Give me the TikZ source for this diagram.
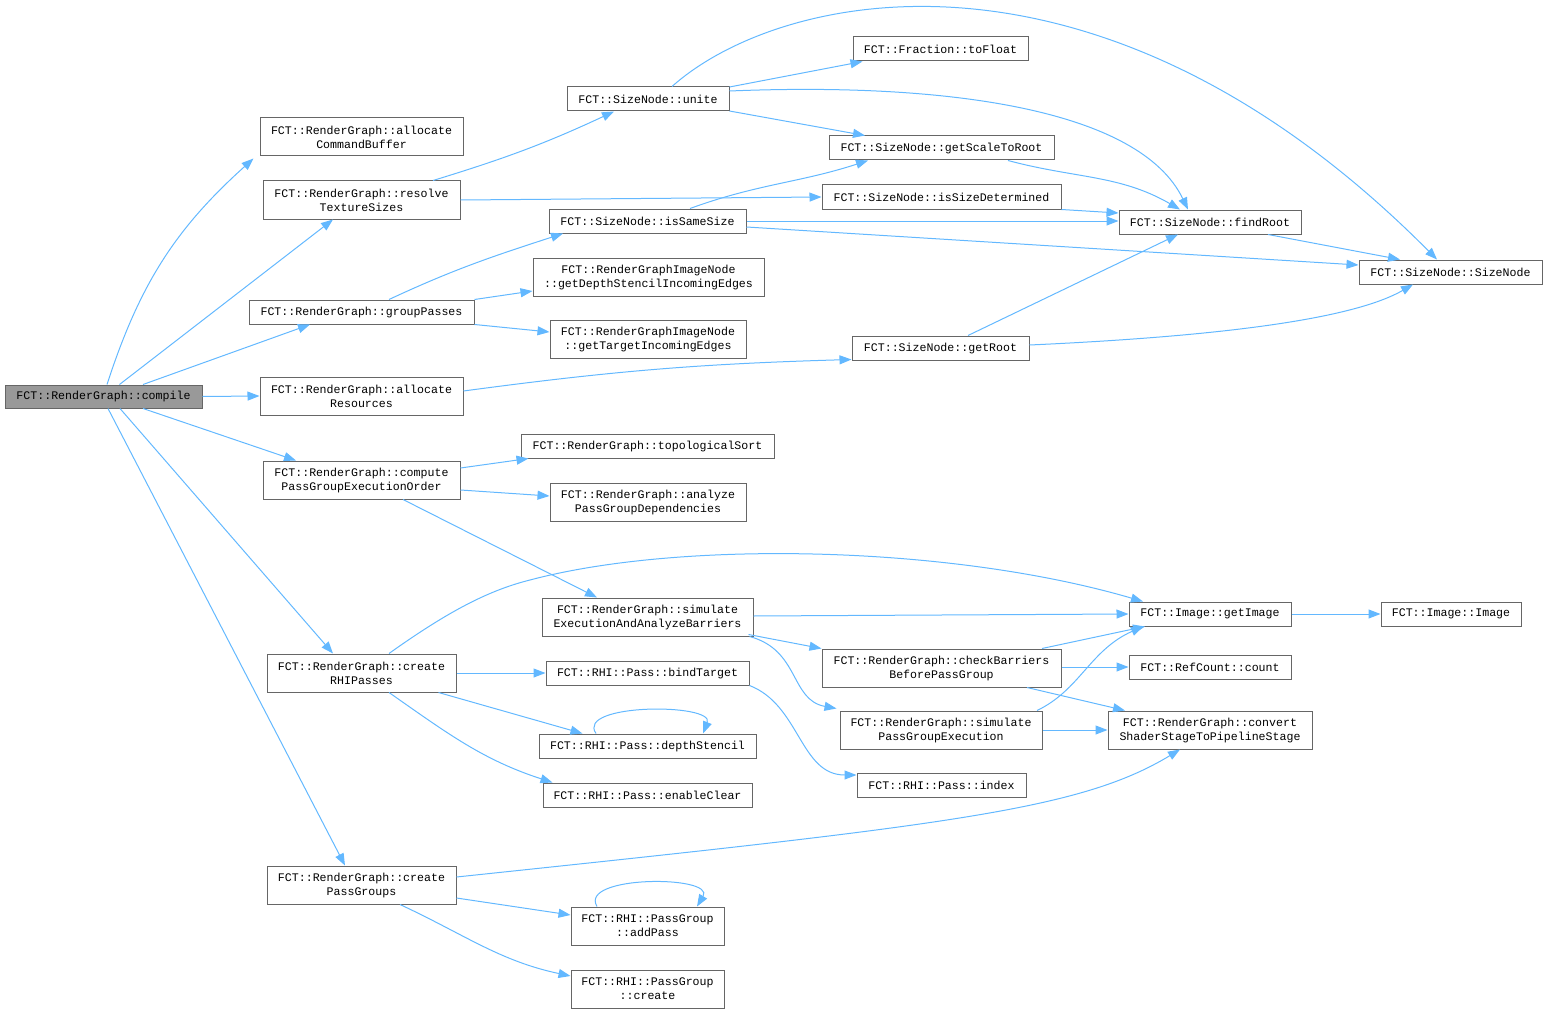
\documentclass[tikz,border=0pt]{standalone}
\usepackage{fontspec}
\setmonofont{Liberation Mono}
\usetikzlibrary{arrows.meta}
\definecolor{edgec}{HTML}{63B8FF}
\definecolor{boxc}{HTML}{666666}
\definecolor{rootc}{HTML}{999999}
\tikzset{
  fn/.style={draw=boxc, line width=1pt, fill=white, inner sep=0pt, align=center,
    font=\ttfamily\fontsize{11.6}{14}\selectfont, text=black},
  rootfn/.style={fn, fill=rootc},
  call/.style={draw=edgec, line width=1pt, -{Triangle[length=12pt,width=9pt,fill=edgec]}}
}
\newcommand{\fnode}[7][fn]{\node[#1, minimum width=#5pt, minimum height=#6pt] (#2) at (#3,#4) {#7};}
\begin{document}
\begin{tikzpicture}[x=1pt,y=-1pt]
\useasboundingbox (0,0) rectangle (1548,1014);
\fnode[rootfn]{compile}{103.5}{396.5}{197}{23}{FCT::RenderGraph::compile}
\fnode{acb}{361.5}{137}{203}{38}{FCT::RenderGraph::allocate\\CommandBuffer}
\fnode{rts}{361.5}{200}{197}{38}{FCT::RenderGraph::resolve\\TextureSizes}
\fnode{gp}{361.5}{312}{225}{24}{FCT::RenderGraph::groupPasses}
\fnode{ar}{361.5}{396}{203}{38}{FCT::RenderGraph::allocate\\Resources}
\fnode{cpgeo}{361.5}{480}{197}{38}{FCT::RenderGraph::compute\\PassGroupExecutionOrder}
\fnode{crp}{361.5}{673}{189}{38}{FCT::RenderGraph::create\\RHIPasses}
\fnode{cpg}{361.5}{885}{189}{38}{FCT::RenderGraph::create\\PassGroups}
\fnode{unite}{648}{99}{162}{24}{FCT::SizeNode::unite}
\fnode{iss}{647.5}{221}{197}{24}{FCT::SizeNode::isSameSize}
\fnode{gdsie}{648.5}{277}{231}{38}{FCT::RenderGraphImageNode\\::getDepthStencilIncomingEdges}
\fnode{gtie}{648}{339}{196}{38}{FCT::RenderGraphImageNode\\::getTargetIncomingEdges}
\fnode{ts}{647.5}{446}{253}{24}{FCT::RenderGraph::topologicalSort}
\fnode{apgd}{648}{502}{196}{38}{FCT::RenderGraph::analyze\\PassGroupDependencies}
\fnode{seaab}{647.5}{617}{211}{38}{FCT::RenderGraph::simulate\\ExecutionAndAnalyzeBarriers}
\fnode{bt}{647.5}{673}{203}{24}{FCT::RHI::Pass::bindTarget}
\fnode{ds}{647.5}{746}{217}{24}{FCT::RHI::Pass::depthStencil}
\fnode{ec}{647.5}{795}{209}{24}{FCT::RHI::Pass::enableClear}
\fnode{ap}{647.5}{926}{153}{38}{FCT::RHI::PassGroup\\::addPass}
\fnode{pgc}{647.5}{989}{153}{38}{FCT::RHI::PassGroup\\::create}
\fnode{tf}{940.5}{49}{175}{24}{FCT::Fraction::toFloat}
\fnode{gstr}{941.5}{148}{225}{24}{FCT::SizeNode::getScaleToRoot}
\fnode{isd}{941.5}{197}{239}{24}{FCT::SizeNode::isSizeDetermined}
\fnode{gr}{940.5}{348}{177}{24}{FCT::SizeNode::getRoot}
\fnode{cbbpg}{941.5}{668}{239}{38}{FCT::RenderGraph::checkBarriers\\BeforePassGroup}
\fnode{spge}{941}{730}{202}{38}{FCT::RenderGraph::simulate\\PassGroupExecution}
\fnode{idx}{941.5}{785}{169}{24}{FCT::RHI::Pass::index}
\fnode{fr}{1210}{222}{182}{24}{FCT::SizeNode::findRoot}
\fnode{gi}{1210}{614}{162}{24}{FCT::Image::getImage}
\fnode{cnt}{1210}{667}{162}{24}{FCT::RefCount::count}
\fnode{conv}{1210}{730}{204}{38}{FCT::RenderGraph::convert\\ShaderStageToPipelineStage}
\fnode{sn}{1450.5}{272}{183}{24}{FCT::SizeNode::SizeNode}
\fnode{img}{1451}{614}{140}{24}{FCT::Image::Image}
% compile
\draw[call] ([xshift=3.5pt]compile.north) to[out=72,in=-138] ([xshift=-6pt,yshift=-2pt]acb.south west);
\draw[call] ([xshift=16pt]compile.north) -- ([xshift=-28.5pt]rts.south);
\draw[call] ([xshift=39.5pt]compile.north) -- ([xshift=-51.5pt]gp.south);
\draw[call] (compile.east) -- (ar.west);
\draw[call] ([xshift=39.5pt]compile.south) -- ([xshift=-65.5pt]cpgeo.north);
\draw[call] ([xshift=16.5pt]compile.south) -- ([xshift=-28.5pt]crp.north);
\draw[call] ([xshift=4.5pt]compile.south) -- ([xshift=-16.5pt]cpg.north);
% second column
\draw[call] ([xshift=71.5pt]rts.north) to[out=17,in=-155] ([xshift=-34pt]unite.south);
\draw[call] (rts.east) -- ([yshift=0pt]isd.west);
\draw[call] ([xshift=27.5pt]gp.north) to[out=25,in=-162] ([xshift=-84.5pt]iss.south);
\draw[call] (gp.north east) -- ([yshift=-14pt]gdsie.west);
\draw[call] (gp.south east) -- ([yshift=7pt]gtie.west);
\draw[call] ([yshift=5pt]ar.east) to[bend left=3] ([yshift=1pt]gr.south west);
\draw[call] ([yshift=12pt]cpgeo.east) -- ([xshift=8pt]ts.south west);
\draw[call] ([yshift=-10pt]cpgeo.east) -- ([yshift=6pt]apgd.west);
\draw[call] ([xshift=41.5pt]cpgeo.south) -- ([xshift=-50.5pt]seaab.north);
\draw[call] ([xshift=27.5pt]crp.north) .. controls (450,610) and (490,590) .. (530,580) .. controls (680,540) and (950,545) .. ([xshift=-67pt]gi.north);
\draw[call] (crp.east) -- (bt.west);
\draw[call] ([xshift=-18pt]crp.south east) -- ([xshift=44pt]ds.north west);
\draw[call] ([xshift=27.5pt]crp.south) to[out=-35,in=162] ([xshift=10pt]ec.north west);
\draw[call] ([yshift=8pt]cpg.east) .. controls (950,825) and (1080,810) .. ([xshift=-30pt]conv.south);
\draw[call] ([yshift=-13pt]cpg.east) -- ([yshift=11pt]ap.west);
\draw[call] ([xshift=38.5pt]cpg.south) to[out=-25,in=168] ([yshift=13pt]pgc.west);
% third column
\draw[call] ([yshift=12pt]unite.east) -- ([xshift=10pt]tf.south west);
\draw[call] ([xshift=24pt]unite.north) .. controls (780,-10) and (1100,-80) .. ([xshift=-13.5pt]sn.north);
\draw[call] ([yshift=8pt]unite.east) .. controls (950,82) and (1140,110) .. ([xshift=-22pt]fr.north);
\draw[call] ([yshift=-12pt]unite.east) -- ([xshift=-76.5pt]gstr.north);
\draw[call] ([xshift=42.5pt]iss.north) to[out=20,in=-162] ([xshift=-73.5pt]gstr.south);
\draw[call] (iss.east) -- ([yshift=1pt]fr.west);
\draw[call] ([yshift=-6pt]iss.east) -- ([yshift=7pt]sn.west);
\draw[call] ([xshift=66.5pt]gstr.south) to[out=-15,in=150] ([xshift=-30pt]fr.north);
\draw[call] (isd.south east) -- ([yshift=9pt]fr.west);
\draw[call] ([xshift=58pt]fr.south) -- ([xshift=-50.5pt]sn.north);
\draw[call] ([xshift=27.5pt]gr.north) -- ([xshift=-32pt]fr.south);
\draw[call] ([yshift=3pt]gr.east) .. controls (1250,335) and (1360,315) .. ([xshift=-37.5pt]sn.south);
\draw[call] ([yshift=1pt]seaab.east) -- (gi.west);
\draw[call] ([xshift=-5pt,yshift=2pt]seaab.south east) -- (cbbpg.north west);
\draw[call] ([xshift=-4pt]seaab.south east) .. controls (800,650) and (790,700) .. ([xshift=-3pt,yshift=2pt]spge.north west);
\draw[call] (bt.south east) .. controls (800,705) and (800,775) .. ([yshift=10pt]idx.west);
\draw[call] ([xshift=-51.5pt]ds.north) .. controls (575,703) and (715,703) .. ([xshift=55.5pt]ds.north);
\draw[call] ([xshift=100.5pt]cbbpg.north) -- ([xshift=-65pt]gi.south);
\draw[call] ([yshift=1pt]cbbpg.east) -- (cnt.west);
\draw[call] ([xshift=85.5pt]cbbpg.south) -- ([xshift=-85pt]conv.north);
\draw[call] ([xshift=96pt]spge.north) .. controls (1080,690) and (1090,650) .. ([xshift=-67pt]gi.south);
\draw[call] (spge.east) -- (conv.west);
\draw[call] (gi.east) -- (img.west);
\draw[call] ([xshift=-50.5pt]ap.north) .. controls (578,875) and (716,875) .. ([xshift=49.5pt]ap.north);
\end{tikzpicture}
\end{document}
